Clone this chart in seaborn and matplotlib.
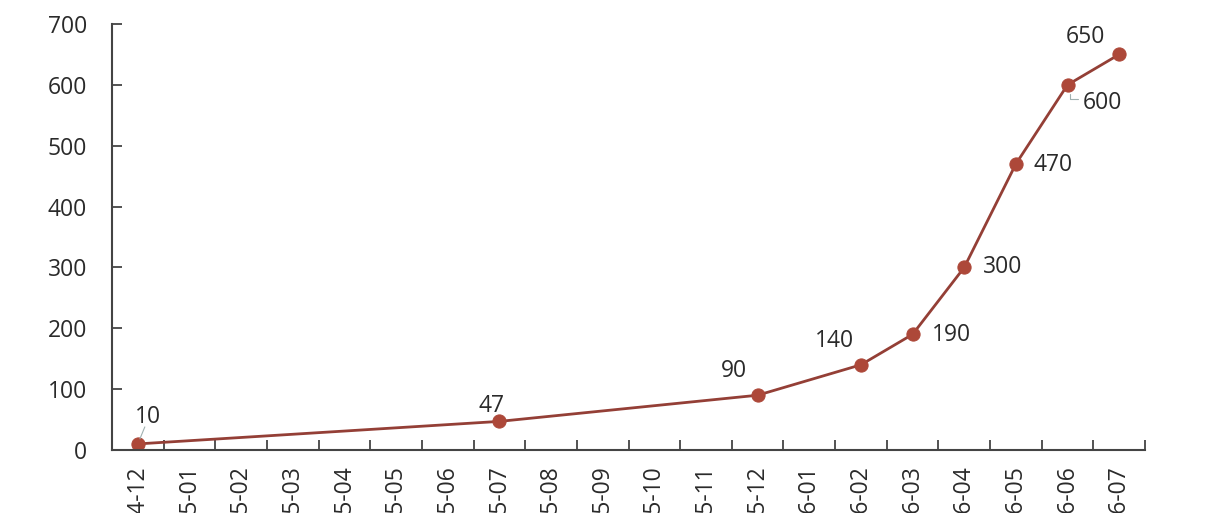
import matplotlib
matplotlib.use("Agg")
import numpy as np
import pandas as pd
import seaborn as sns
import matplotlib.pyplot as plt
from matplotlib.ticker import FixedLocator

# months on the category axis
months = ["2014-12", "2015-01", "2015-02", "2015-03", "2015-04", "2015-05",
          "2015-06", "2015-07", "2015-08", "2015-09", "2015-10", "2015-11",
          "2015-12", "2016-01", "2016-02", "2016-03", "2016-04", "2016-05",
          "2016-06", "2016-07"]
# months that actually have a value
data_months = ["2014-12", "2015-07", "2015-12", "2016-02", "2016-03",
               "2016-04", "2016-05", "2016-06", "2016-07"]
values = [10, 47, 90, 140, 190, 300, 470, 600, 650]

# label offsets (pixels) relative to each point
label_offsets = [(10, 27), (-8, 15), (-24, 24), (-26, 24), (39, -1),
                 (38, 0), (37, -1), (35, -18), (-34, 17)]

df = pd.DataFrame({"month": data_months, "value": values})
df["pos"] = [months.index(m) for m in df["month"]]

sns.set_theme(style="white")
plt.rcParams["font.family"] = ["Open Sans", "DejaVu Sans"]

fig = plt.figure(figsize=(12.06, 5.13), dpi=100)
ax = fig.add_axes([112 / 1206, 63 / 513, (1145 - 112) / 1206, (450 - 24) / 513])

txt_col = "#2a2a2a"
line_col = "#943f36"
sns.lineplot(data=df, x="pos", y="value", ax=ax, color=line_col, lw=2,
             marker="o", markersize=9.5, markerfacecolor="#ad4839",
             markeredgecolor="#ad4839")

for (x, y, v), off in zip(zip(df["pos"], df["value"], df["value"]), label_offsets):
    ax.annotate(str(v), (x, y), xytext=off, textcoords="offset pixels",
                ha="center", va="center", fontsize=16.5, color=txt_col)

# small leader lines like the original
ax.annotate("", (0, 10), xytext=(7, 17), textcoords="offset pixels",
            arrowprops=dict(arrowstyle="-", color="#9fb0b0", lw=0.8,
                            shrinkA=0, shrinkB=4))
ax.plot([18.05, 18.05, 18.2], [585, 577, 577], color="#9fb0b0", lw=0.8)

ax.set_xlim(-0.5, len(months) - 0.5)
ax.set_ylim(0, 700)
ax.set_yticks(np.arange(0, 701, 100))
ax.set_xticks(range(len(months)))
ax.set_xticklabels(months, rotation=90)
ax.xaxis.set_minor_locator(FixedLocator(np.arange(0.5, len(months), 1)))

ax.tick_params(axis="x", which="major", length=0, pad=11, labelsize=16.5,
               labelcolor=txt_col)
ax.tick_params(axis="x", which="minor", direction="in", length=7, width=1.3,
               color="#444444", bottom=True)
ax.tick_params(axis="y", direction="in", length=7, width=1.3, color="#444444",
               left=True, labelsize=16.5, labelcolor=txt_col, pad=18)

for s in ["top", "right"]:
    ax.spines[s].set_visible(False)
for s in ["left", "bottom"]:
    ax.spines[s].set_color("#444444")
    ax.spines[s].set_linewidth(1.5)

ax.set_xlabel("")
ax.set_ylabel("")
ax.grid(False)

fig.savefig("out.png", dpi=100)
